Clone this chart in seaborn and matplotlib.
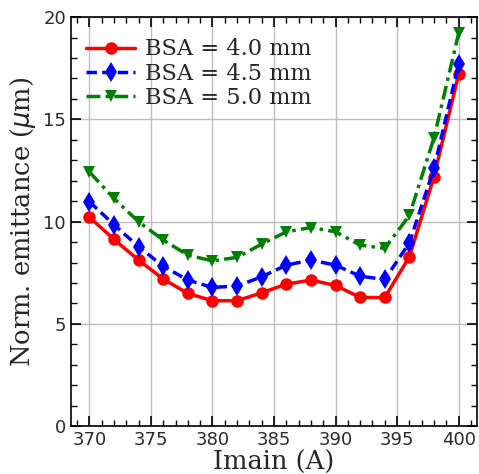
import matplotlib
matplotlib.use("Agg")
import matplotlib.pyplot as plt
from matplotlib.ticker import MultipleLocator
import pandas as pd
import seaborn as sns

# Main solenoid current scan (A)
imain = [370, 372, 374, 376, 378, 380, 382, 384, 386, 388, 390, 392, 394, 396, 398, 400]

# Normalized emittance (um) for each BSA aperture
emit_40 = [10.22, 9.13, 8.12, 7.19, 6.49, 6.13, 6.13, 6.52, 6.94, 7.14, 6.88, 6.29, 6.29, 8.28, 12.2, 17.2]
emit_45 = [10.97, 9.85, 8.77, 7.82, 7.14, 6.78, 6.85, 7.30, 7.87, 8.12, 7.87, 7.33, 7.17, 8.96, 12.6, 17.7]
emit_50 = [12.43, 11.13, 9.99, 9.10, 8.36, 8.08, 8.25, 8.90, 9.50, 9.71, 9.50, 8.85, 8.69, 10.3, 14.1, 19.2]

labels = ["BSA = 4.0 mm", "BSA = 4.5 mm", "BSA = 5.0 mm"]

df = pd.concat([
    pd.DataFrame({"Imain": imain, "emit": e, "BSA": lab})
    for e, lab in zip([emit_40, emit_45, emit_50], labels)
])

sns.set_style("ticks")
plt.rcParams["font.family"] = ["DejaVu Sans"]

fig = plt.figure(figsize=(4.79, 4.74), dpi=100)
ax = fig.add_axes([0.148, 0.101, 0.848, 0.863])

styles = [("red", "-", "o"), ("blue", (0, (3, 1.5)), "d"), ("green", (0, (4, 1.5, 1, 1.5)), "v")]
sizes = [9, 10.5, 9]
for lab, (col, ls, mk), ms in zip(labels, styles, sizes):
    sub = df[df["BSA"] == lab]
    sns.lineplot(data=sub, x="Imain", y="emit", ax=ax, color=col, linestyle=ls,
                 marker=mk, markersize=ms, markeredgewidth=0, linewidth=2.5,
                 label=lab, zorder=3)

ax.set_xlim(368.5, 401.5)
ax.set_ylim(0, 20)
ax.xaxis.set_major_locator(MultipleLocator(5))
ax.xaxis.set_minor_locator(MultipleLocator(1))
ax.yaxis.set_major_locator(MultipleLocator(5))
ax.yaxis.set_minor_locator(MultipleLocator(1))
ax.tick_params(which="both", direction="in", top=True, right=True, colors="black")
ax.tick_params(which="major", length=7, width=1.2, labelsize=13, labelcolor="#2a2a2a")
ax.tick_params(which="minor", length=4, width=1.0)
ax.grid(True, which="major", color="#bdbdbd", linewidth=1.0)
for sp in ax.spines.values():
    sp.set_color("black")
    sp.set_linewidth(1.2)

ax.set_xlabel("Imain (A)", family="DejaVu Serif", fontsize=18.5, labelpad=1)
ax.set_ylabel(r"Norm. emittance ($\mu$m)", family="DejaVu Serif", fontsize=18.5, labelpad=4)

leg = ax.legend(loc="upper left", bbox_to_anchor=(-0.016, 1.0), frameon=False,
                prop={"family": "DejaVu Serif", "size": 16.2},
                handlelength=2.2, labelspacing=0.1, handletextpad=0.45,
                borderaxespad=0.55)

fig.savefig("out.png", dpi=100)
